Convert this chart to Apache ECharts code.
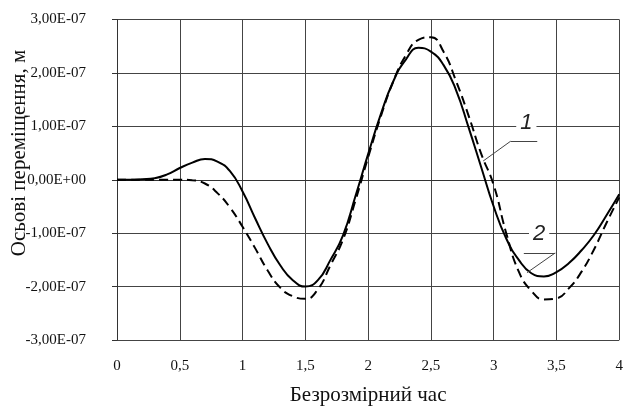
<!DOCTYPE html>
<html>
<head>
<meta charset="utf-8">
<script src="https://cdn.jsdelivr.net/npm/echarts@6/dist/echarts.min.js"></script>
<style>
  html, body { margin: 0; padding: 0; background: #fff; }
  #chart { width: 626px; height: 411px; }
</style>
</head>
<body>
<div id="chart"></div>
<script>
// безрозмірний час
const timeValues = [0, 0.1, 0.2, 0.3, 0.4, 0.5, 0.6, 0.7, 0.8, 0.9,
  1.0, 1.1, 1.2, 1.3, 1.4, 1.5, 1.6, 1.7, 1.8, 1.9,
  2.0, 2.1, 2.2, 2.3, 2.4, 2.5, 2.6, 2.7, 2.8, 2.9,
  3.0, 3.1, 3.2, 3.3, 3.4, 3.5, 3.6, 3.7, 3.8, 3.9, 4.0]

// крива 1 (штрихова), в одиницях 1E-07 м
const curve1 = [0, 0, 0, 0, 0, 0, -0.01, -0.07, -0.25, -0.52,
  -0.88, -1.28, -1.7, -2.02, -2.18, -2.23, -2.05, -1.6, -1.12, -0.38,
  0.42, 1.18, 1.84, 2.33, 2.62, 2.67, 2.4, 1.85, 1.2, 0.49,
  -0.1, -1.0, -1.72, -2.08, -2.24, -2.22, -2.03, -1.72, -1.3, -0.8, -0.33]

// крива 2 (суцільна)
const curve2 = [0, 0, 0.01, 0.03, 0.1, 0.22, 0.32, 0.39, 0.34, 0.16,
  -0.22, -0.72, -1.2, -1.6, -1.88, -2.0, -1.88, -1.5, -1.04, -0.3,
  0.48, 1.22, 1.84, 2.25, 2.47, 2.4, 2.15, 1.68, 0.98, 0.24,
  -0.5, -1.1, -1.5, -1.75, -1.81, -1.73, -1.56, -1.32, -1.03, -0.66, -0.27]

const SCALE = 1e-7
const yTicks = { min: -3e-7, max: 3e-7, step: 1e-7 }
const xTicks = { min: 0, max: 4, step: 0.5 }

// виноски "1" і "2" (координати в одиницях даних, 1E-07)
const callout1 = { text: '1', at: [3.26, 1.07], line: [[2.916, 0.35], [3.134, 0.72], [3.347, 0.72]] }
const callout2 = { text: '2', at: [3.362, -1.02], line: [[3.265, -1.74], [3.49, -1.37], [3.24, -1.37]] }

const toPairs = arr => timeValues.map((t, i) => [t, arr[i] * SCALE])

function sciLabel(v) {
  if (Math.abs(v) < 1e-12) return '0,00E+00'
  const s = v.toExponential(2)           // e.g. "-1.00e-7"
  const m = s.split('e')
  let exp = parseInt(m[1], 10)
  const sign = exp < 0 ? '-' : '+'
  exp = Math.abs(exp)
  return m[0].replace('.', ',') + 'E' + sign + (exp < 10 ? '0' + exp : exp)
}

function leader(c) {
  const segs = []
  for (let i = 0; i < c.line.length - 1; i++) {
    segs.push([
      { coord: [c.line[i][0], c.line[i][1] * SCALE] },
      { coord: [c.line[i + 1][0], c.line[i + 1][1] * SCALE] }
    ])
  }
  return segs
}

function calloutPoint(c) {
  return {
    coord: [c.at[0], c.at[1] * SCALE],
    symbol: 'rect',
    symbolSize: 1,
    itemStyle: { color: 'rgba(0,0,0,0)' },
    label: {
      show: true,
      position: 'inside',
      formatter: c.text,
      fontFamily: "'Liberation Sans', sans-serif",
      fontStyle: 'italic',
      fontSize: 22,
      color: '#222',
      backgroundColor: '#fff',
      padding: [0, 4]
    }
  }
}

const chart = echarts.init(document.getElementById('chart'))
const serif = "'Liberation Serif', 'DejaVu Serif', serif"

const option = {
  backgroundColor: '#fff',
  animation: false,
  grid: { left: 117, right: 1, top: 19.5, bottom: 66 },
  graphic: [{
    type: 'text',
    x: 19,
    y: 153,
    rotation: Math.PI / 2,
    style: {
      text: 'Осьові переміщення, м',
      fontFamily: serif,
      fontSize: 21,
      fill: '#111',
      align: 'center',
      verticalAlign: 'middle'
    }
  }],
  xAxis: {
    type: 'value',
    min: xTicks.min,
    max: xTicks.max,
    interval: xTicks.step,
    name: 'Безрозмірний час',
    nameLocation: 'middle',
    nameGap: 45,
    nameTextStyle: { fontFamily: serif, fontSize: 21, color: '#111' },
    axisLine: { show: true, lineStyle: { color: '#333', width: 1 } },
    axisTick: { show: false },
    axisLabel: {
      margin: 19,
      fontFamily: serif,
      fontSize: 15,
      color: '#111',
      formatter: v => String(v).replace('.', ',')
    },
    splitLine: { show: true, lineStyle: { color: '#444', width: 1 } }
  },
  yAxis: {
    type: 'value',
    min: yTicks.min,
    max: yTicks.max,
    interval: yTicks.step,
    axisLine: { show: true, lineStyle: { color: '#333', width: 1 } },
    axisTick: { show: true, length: 5, lineStyle: { color: '#333' } },
    axisLabel: {
      margin: 31,
      fontFamily: serif,
      fontSize: 15,
      color: '#111',
      formatter: sciLabel
    },
    splitLine: { show: true, lineStyle: { color: '#444', width: 1 } }
  },
  series: [
    {
      name: '1',
      type: 'line',
      data: toPairs(curve1),
      smooth: 0.5,
      symbol: 'none',
      lineStyle: { color: '#000', width: 2, type: [9, 5] },
      markLine: {
        silent: true,
        symbol: 'none',
        label: { show: false },
        lineStyle: { color: '#444', width: 1, type: 'solid' },
        data: leader(callout1)
      },
      markPoint: { silent: true, data: [calloutPoint(callout1)] }
    },
    {
      name: '2',
      type: 'line',
      data: toPairs(curve2),
      smooth: 0.5,
      symbol: 'none',
      lineStyle: { color: '#000', width: 2 },
      markLine: {
        silent: true,
        symbol: 'none',
        label: { show: false },
        lineStyle: { color: '#444', width: 1, type: 'solid' },
        data: leader(callout2)
      },
      markPoint: { silent: true, data: [calloutPoint(callout2)] }
    }
  ]
}

chart.setOption(option)
</script>
</body>
</html>
